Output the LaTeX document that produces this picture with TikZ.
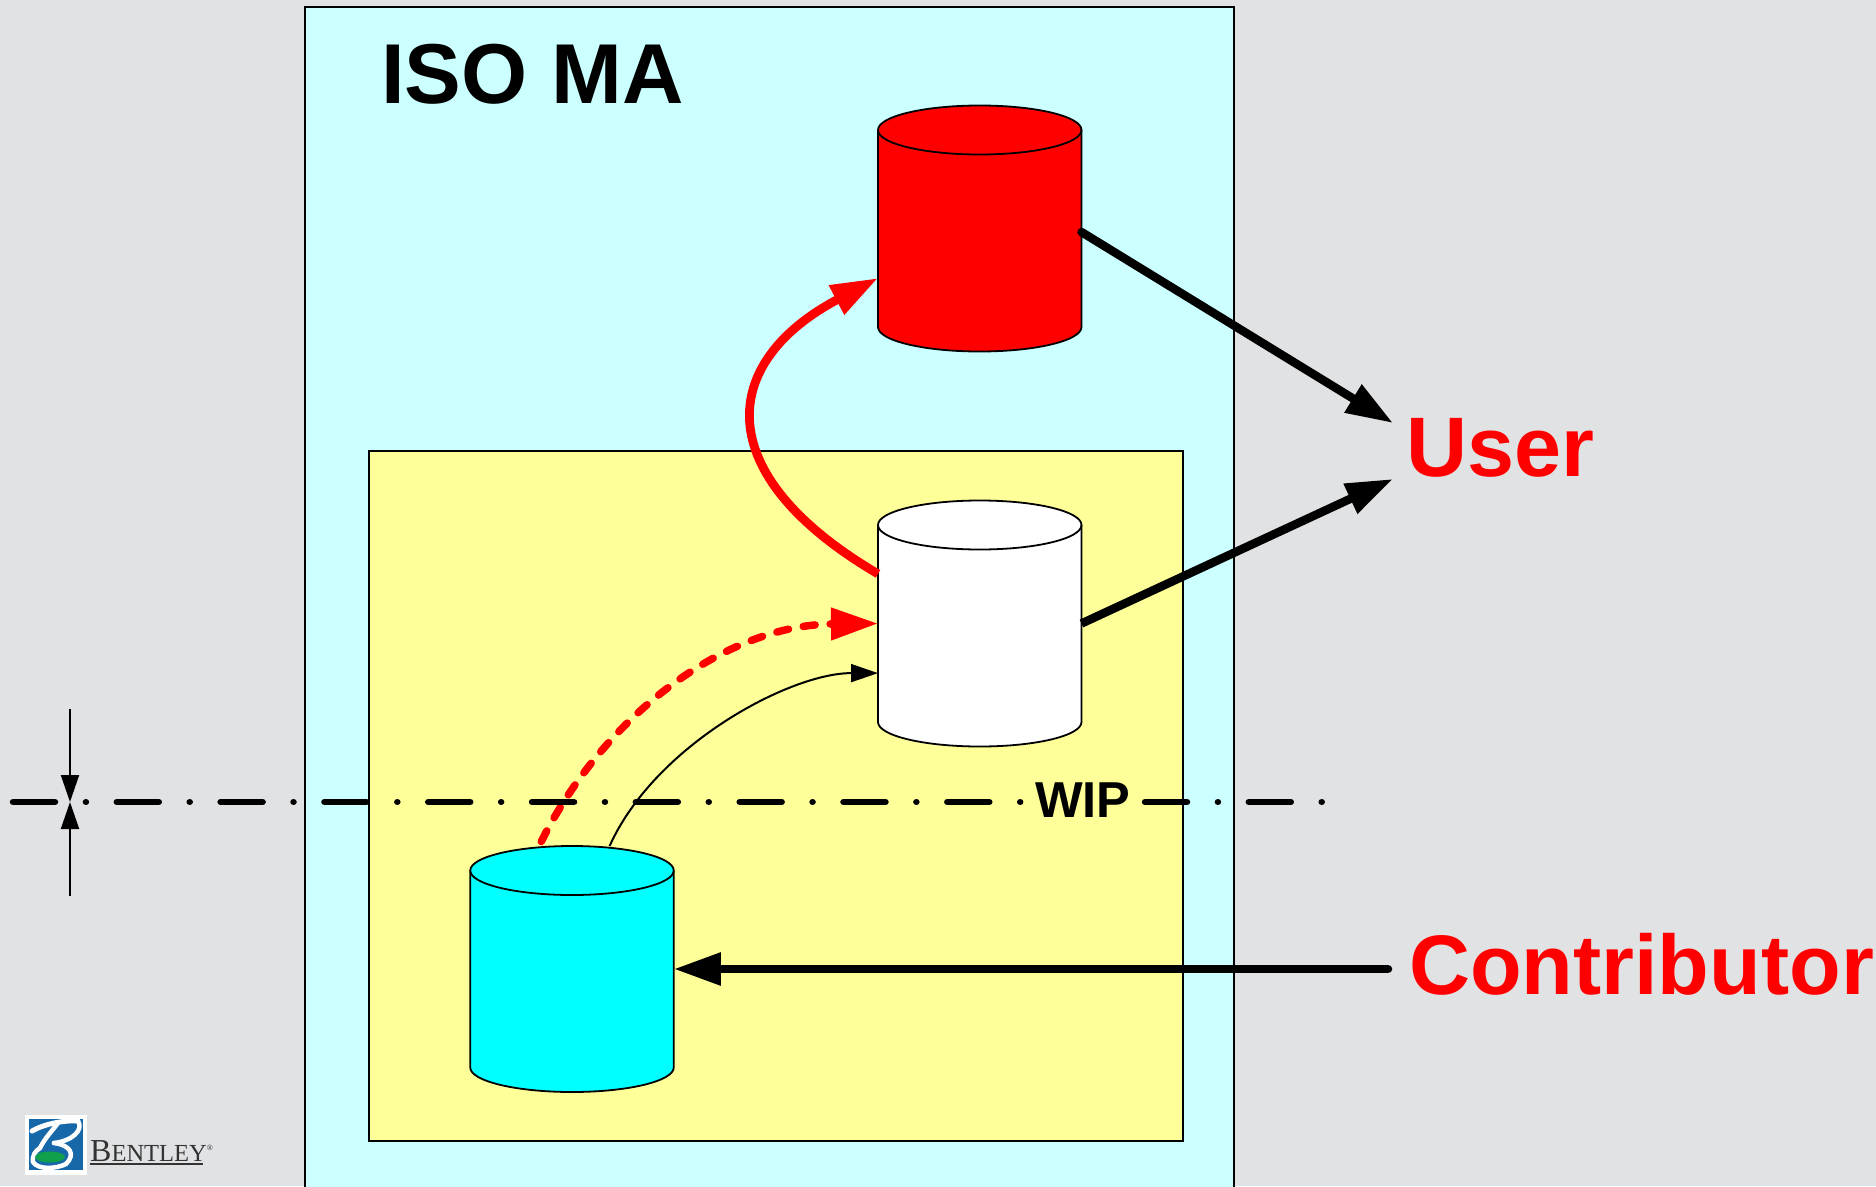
\documentclass[tikz,border=0pt]{standalone}
\usepackage{fontspec}
\setmainfont{Liberation Sans}
\newfontfamily\logofont{Liberation Serif}
\usetikzlibrary{arrows.meta}
\definecolor{pagebg}{HTML}{E1E2E4}
\definecolor{paleCyan}{HTML}{CCFFFF}
\definecolor{paleYellow}{HTML}{FFFF99}
\definecolor{drumCyan}{HTML}{00FFFF}
\definecolor{drumRed}{HTML}{FF0000}
\definecolor{logoBlue}{HTML}{1668A8}
\definecolor{logoGreen}{HTML}{10A04C}
\definecolor{logoInk}{HTML}{333333}
\tikzset{
  panel/.style={draw=black,line width=1.8pt},
  drumframe/.style={shape=rectangle,minimum width=203.5pt,minimum height=246pt,inner sep=0pt,outer sep=0pt},
  drumline/.style={draw=black,line width=1.8pt,line join=round},
  bigarrow/.style={draw=black,line width=8.5pt,line cap=round,-{Triangle[length=47pt,width=31pt]}},
  redarrow/.style={draw=drumRed,line width=8.8pt,-{Triangle[length=47pt,width=31pt]}},
  reddash/.style={draw=drumRed,line width=7.5pt,line cap=round,dash pattern=on 12pt off 15pt,-{Triangle[length=47pt,width=31pt]}},
  thinarrow/.style={draw=black,line width=2pt,-{Triangle[length=27pt,width=18pt]}},
  centerline/.style={draw=black,line width=6.5pt,line cap=round,dash pattern=on 42pt off 30.9pt on 0.01pt off 30.9pt},
  redlabel/.style={text=drumRed,font=\fontsize{84.5}{84.5}\selectfont\bfseries,anchor=base west,inner sep=0pt},
  blacklabel/.style={text=black,font=\fontsize{85}{85}\selectfont\bfseries,anchor=base west,inner sep=0pt},
  bigB/.style={white,line width=4.5pt,line cap=round,line join=round}
}
\newcommand{\drumbody}[2]{%
  \path[drumline,fill=#2] ([yshift=-24.5pt]#1.north west) -- ++(0,197)
    arc[start angle=180,end angle=0,x radius=101.75,y radius=24.5] -- ++(0,-197)
    arc[start angle=0,end angle=-180,x radius=101.75,y radius=24.5] -- cycle;
  \path[drumline] ([yshift=-24.5pt]#1.north west)
    arc[start angle=180,end angle=0,x radius=101.75,y radius=24.5];}
\begin{document}
\begin{tikzpicture}[x=1pt,y=-1pt]
\useasboundingbox (0,0) rectangle (1876,1186);
\fill[pagebg] (0,0) rectangle (1876,1186);
% panels
\path[panel,fill=paleCyan] (305,7) -- (305,1190) -- (1234,1190) -- (1234,7) -- cycle;
\node[panel,fill=paleYellow,shape=rectangle,minimum width=814pt,minimum height=690pt,inner sep=0pt] (wipbox) at (776,796) {};
% title
\node[blacklabel] (title) at (381,103) {ISO MA};
% storages
\node[drumframe] (published) at (979.75,228.5) {};
\node[drumframe] (shared) at (979.75,623.5) {};
\node[drumframe] (local) at (572,969) {};
\drumbody{published}{drumRed}
\drumbody{shared}{white}
\drumbody{local}{drumCyan}
% labels
\node[redlabel] (user) at (1406,476) {User};
\node[redlabel] (contributor) at (1409,994) {Contributor};
\node[blacklabel,font=\fontsize{50.5}{50.5}\selectfont\bfseries] (wip) at (1035,817) {WIP};
% free connector ends
\coordinate (userA) at (1393,423);
\coordinate (userB) at (1393,479);
\coordinate (contribEnd) at (1388,969);
% connectors
\draw[thinarrow] (local.73) .. controls (655,745) and (790,673) .. (shared.206);
\draw[reddash,shorten <=5pt] (local.105) .. controls (604,716) and (725,625) .. (shared.180);
\draw[redarrow] (shared.154) .. controls (708,474) and (719,362) .. (published.206);
\draw[bigarrow] (published.-2) -- (userA);
\draw[bigarrow,line cap=butt] (shared.0) -- (userB);
\draw[bigarrow] (contribEnd) -- (local.0);
% centre line
\coordinate (lineA) at (13,802);
\coordinate (lineB) at (1034,802);
\coordinate (lineC) at (1145,802);
\coordinate (lineD) at (1324,802);
\draw[centerline] (lineA) -- (lineB);
\draw[centerline] (lineC) -- (lineD);
% level gauge
\coordinate (gauge) at (70,802);
\coordinate (gaugeTop) at (70,709);
\coordinate (gaugeBot) at (70,896);
\draw[thinarrow] (gaugeTop) -- (gauge);
\draw[thinarrow] (gaugeBot) -- (gauge);
% logo
\fill[white] (25,1115) rectangle (87,1175);
\fill[logoBlue] (29,1119) rectangle (83,1170);
\draw[bigB,line width=5pt] (32,1131) .. controls (44,1124) and (64,1120) .. (78,1121);
\draw[bigB] (78,1121) .. controls (84,1130) and (72,1141) .. (54,1143);
\draw[bigB] (58,1123) .. controls (52,1131) and (45,1138) .. (40,1148);
\draw[bigB] (54,1143) .. controls (70,1145) and (76,1154) .. (66,1164) .. controls (56,1169) and (38,1170) .. (33,1162) .. controls (32,1156) and (35,1151) .. (40,1148);
\fill[logoGreen] (50,1157) ellipse [x radius=15,y radius=5.5];
\node[inner sep=0pt,anchor=base west,text=logoInk,font=\logofont\fontsize{32}{32}\selectfont] (brand) at (90,1161) {B\fontsize{24.5}{24.5}\selectfont ENTLEY\raisebox{11pt}{\fontsize{8}{8}\selectfont ®}};
\fill[logoInk] (90,1162.5) rectangle (203,1164.5);
\end{tikzpicture}
\end{document}
